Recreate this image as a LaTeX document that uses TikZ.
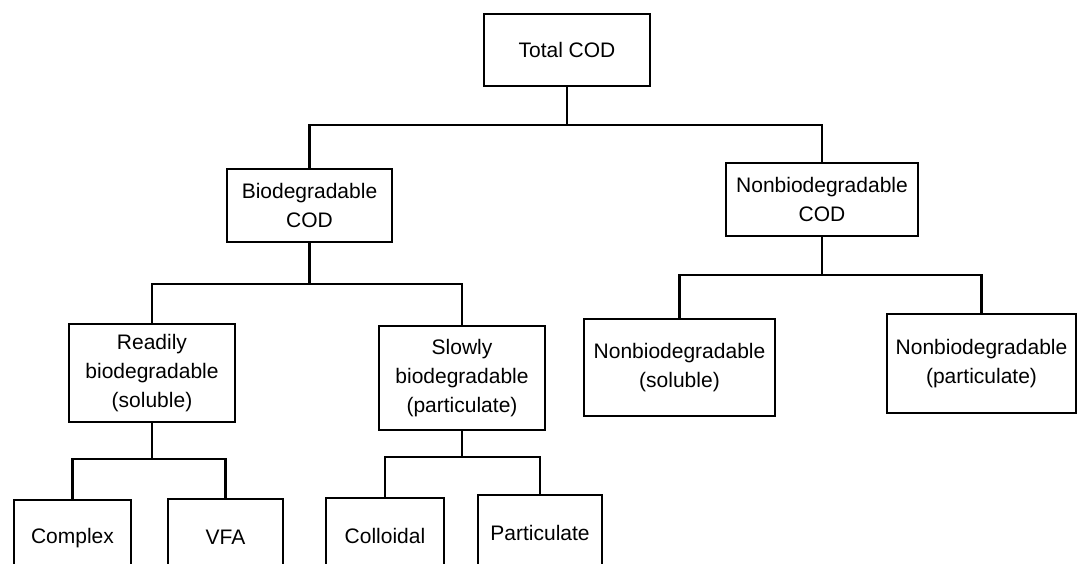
\documentclass[tikz,border=0pt]{standalone}
\usepackage{fontspec}
\setmainfont{Liberation Sans}
\begin{document}
\begin{tikzpicture}[x=1pt,y=-1pt,
  box/.style={draw, line width=1.8pt, align=center, inner sep=0pt,
    font=\fontsize{21}{29}\selectfont},
  link/.style={line width=2.8pt, line join=miter}]
\useasboundingbox (0,0) rectangle (1086,564);
\clip (0,0) rectangle (1086,564);
% boxes
\node[box, minimum width=166pt, minimum height=72pt] (total) at (567,50) {Total COD};
\node[box, minimum width=165pt, minimum height=73pt] (bio) at (309.5,205.5) {Biodegradable\\COD};
\node[box, minimum width=192pt, minimum height=73pt] (nonbio) at (822,199.5) {Nonbiodegradable\\COD};
\node[box, minimum width=166pt, minimum height=98pt] (ready) at (152,373) {Readily\\biodegradable\\(soluble)};
\node[box, minimum width=166pt, minimum height=104pt] (slow) at (462,378) {Slowly\\biodegradable\\(particulate)};
\node[box, minimum width=191pt, minimum height=97pt] (nbs) at (679.5,367.5) {Nonbiodegradable\\(soluble)};
\node[box, minimum width=189pt, minimum height=99pt] (nbp) at (981.5,363.5) {Nonbiodegradable\\(particulate)};
\node[box, minimum width=117pt, minimum height=76pt] (complex) at (72.5,538) {Complex};
\node[box, minimum width=115pt, minimum height=76pt] (vfa) at (225.5,537) {VFA};
\node[box, minimum width=118pt, minimum height=76pt] (coll) at (385,536) {Colloidal};
\node[box, minimum width=124pt, minimum height=76pt] (part) at (540,533) {Particulate};
% junctions
\coordinate (j0) at (567,125);
\coordinate (j1) at (309.5,284);
\coordinate (j2) at (822,275);
\coordinate (j3) at (152,459);
\coordinate (j4) at (462,457);
% connectors
\draw[link] (total) -- (j0);
\draw[link] (j0) -| (bio);
\draw[link] (j0) -| (nonbio);
\draw[link] (bio) -- (j1);
\draw[link] (j1) -| (ready);
\draw[link] (j1) -| (slow);
\draw[link] (nonbio) -- (j2);
\draw[link] (j2) -| (nbs);
\draw[link] (j2) -| (nbp);
\draw[link] (ready) -- (j3);
\draw[link] (j3) -| (complex);
\draw[link] (j3) -| (vfa);
\draw[link] (slow) -- (j4);
\draw[link] (j4) -| (coll);
\draw[link] (j4) -| (part);
\end{tikzpicture}
\end{document}
